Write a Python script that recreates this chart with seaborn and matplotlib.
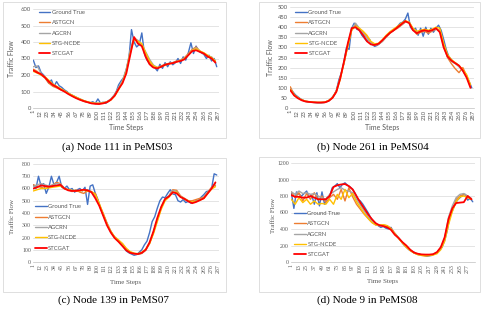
import numpy as np
import pandas as pd
import matplotlib
matplotlib.use("Agg")
import matplotlib.pyplot as plt
import seaborn as sns
from matplotlib.patches import Rectangle

# time steps: ground truth read every 4 steps, model predictions every 6 steps
gt_steps = np.arange(1, 289, 4)
model_steps = np.arange(1, 289, 6)
models = ["Ground True", "ASTGCN", "AGCRN", "STG-NCDE", "STCGAT"]

# (a) Node 111 in PeMS03
a_gt = [290, 245, 255, 215, 200, 175, 150, 170, 130, 160, 135, 125,
        110, 100, 85, 78, 70, 62, 55, 48, 40, 35, 32, 38,
        28, 55, 30, 35, 28, 40, 52, 70, 95, 140, 165, 185,
        235, 300, 475, 400, 370, 385, 455, 330, 290, 270, 250, 245,
        225, 265, 240, 275, 250, 280, 262, 275, 300, 270, 310, 290,
        335, 395, 330, 375, 345, 335, 325, 300, 320, 285, 300, 250]
a_astgcn = [235, 222, 200, 182, 150, 132, 122, 112, 102, 88, 75, 62,
            52, 40, 35, 30, 28, 30, 32, 38, 52, 80, 120, 160,
            230, 345, 420, 400, 380, 330, 280, 255, 245, 255, 265, 270,
            275, 285, 290, 305, 330, 355, 370, 345, 330, 310, 305, 280]
a_agcrn = [250, 255, 210, 190, 165, 140, 128, 115, 102, 90, 76, 64,
           54, 44, 37, 30, 28, 28, 32, 38, 55, 82, 125, 165,
           235, 350, 425, 410, 385, 340, 295, 260, 245, 252, 262, 270,
           275, 282, 292, 300, 325, 350, 365, 345, 330, 315, 310, 285]
a_stgncde = [222, 212, 200, 188, 168, 145, 132, 118, 105, 90, 78, 66,
             55, 45, 38, 32, 28, 27, 30, 36, 48, 72, 110, 155,
             220, 330, 415, 405, 390, 335, 285, 255, 245, 250, 260, 268,
             272, 280, 288, 298, 322, 348, 360, 345, 335, 320, 305, 285]
a_stcgat = [228, 215, 205, 185, 160, 140, 128, 112, 100, 85, 72, 60,
            50, 42, 35, 28, 25, 24, 28, 35, 50, 75, 115, 150,
            210, 320, 430, 390, 375, 310, 265, 245, 240, 250, 262, 268,
            272, 280, 285, 295, 320, 345, 350, 340, 330, 312, 300, 275]

# (b) Node 261 in PeMS04
b_gt = [95, 80, 65, 55, 45, 38, 33, 31, 30, 28, 27, 26,
        26, 27, 30, 35, 48, 62, 85, 140, 175, 230, 300, 290,
        395, 420, 390, 385, 360, 345, 330, 340, 315, 305, 310, 320,
        330, 345, 360, 375, 380, 390, 405, 420, 425, 440, 470, 400,
        385, 395, 360, 395, 355, 400, 365, 395, 375, 395, 410, 385,
        340, 290, 255, 240, 225, 220, 205, 195, 175, 155, 130, 100]
b_astgcn = [105, 65, 50, 40, 33, 30, 28, 27, 27, 28, 36, 52,
            85, 150, 220, 310, 385, 415, 390, 375, 355, 320, 310, 315,
            330, 350, 370, 385, 395, 410, 425, 425, 390, 365, 375, 380,
            370, 380, 390, 385, 310, 250, 220, 195, 175, 200, 160, 110]
b_agcrn = [95, 64, 50, 39, 33, 30, 28, 27, 27, 28, 36, 50,
           82, 150, 225, 315, 390, 420, 395, 370, 345, 322, 312, 315,
           332, 352, 372, 388, 400, 412, 428, 425, 392, 370, 382, 385,
           378, 382, 392, 380, 305, 255, 232, 220, 205, 185, 155, 105]
b_stgncde = [92, 66, 50, 40, 34, 31, 29, 28, 28, 29, 37, 52,
             80, 140, 225, 305, 385, 405, 395, 380, 360, 330, 318, 320,
             338, 360, 378, 392, 405, 420, 432, 425, 395, 380, 385, 390,
             385, 390, 400, 395, 320, 265, 240, 225, 210, 190, 165, 115]
b_stcgat = [88, 62, 48, 38, 32, 30, 28, 27, 27, 28, 35, 50,
            80, 145, 230, 320, 395, 400, 385, 360, 330, 315, 312, 318,
            335, 355, 372, 385, 400, 415, 430, 420, 385, 370, 380, 385,
            380, 385, 395, 375, 300, 255, 235, 222, 210, 185, 150, 100]

# (c) Node 139 in PeMS07
c_gt = [630, 600, 700, 620, 640, 560, 610, 700, 630, 650, 700, 610,
        600, 620, 590, 600, 570, 590, 600, 580, 610, 470, 620, 630,
        560, 510, 440, 390, 340, 290, 250, 215, 195, 170, 150, 120,
        90, 75, 65, 55, 60, 80, 100, 140, 170, 240, 330, 370,
        440, 500, 530, 525, 560, 590, 555, 550, 500, 490, 510, 485,
        495, 480, 490, 500, 505, 530, 550, 575, 580, 600, 720, 710]
c_astgcn = [630, 620, 610, 600, 610, 630, 650, 640, 600, 590, 575, 590,
            570, 560, 580, 570, 560, 470, 400, 320, 250, 200, 175, 150,
            110, 80, 70, 62, 70, 95, 150, 240, 340, 440, 510, 540,
            590, 585, 540, 520, 500, 500, 510, 520, 530, 570, 610, 625]
c_agcrn = [615, 630, 640, 630, 620, 630, 640, 635, 605, 590, 580, 585,
           580, 590, 590, 575, 540, 470, 390, 310, 245, 200, 170, 140,
           100, 78, 68, 63, 72, 98, 155, 245, 350, 445, 515, 540,
           585, 575, 535, 515, 500, 490, 495, 510, 525, 565, 605, 640]
c_stgncde = [580, 590, 600, 600, 605, 610, 615, 620, 600, 590, 585, 580,
             580, 585, 580, 575, 550, 480, 395, 310, 250, 205, 180, 150,
             110, 85, 72, 68, 80, 105, 150, 230, 330, 430, 500, 530,
             570, 570, 530, 515, 500, 490, 495, 505, 520, 560, 595, 615]
c_stcgat = [600, 610, 625, 620, 615, 620, 625, 630, 600, 585, 580, 580,
            585, 590, 585, 570, 520, 460, 380, 300, 240, 195, 165, 130,
            95, 75, 68, 65, 75, 100, 160, 250, 360, 450, 515, 535,
            570, 560, 530, 515, 495, 480, 490, 505, 520, 560, 600, 650]

# (d) Node 9 in PeMS08
d_gt = [840, 650, 850, 820, 800, 830, 860, 780, 810, 700, 840, 680,
        850, 700, 780, 800, 900, 920, 950, 900, 940, 960, 930, 910,
        880, 830, 760, 740, 700, 650, 600, 540, 500, 470, 440, 420,
        430, 410, 400, 420, 360, 330, 290, 250, 210, 180, 150, 130,
        120, 100, 95, 85, 80, 70, 75, 80, 100, 110, 140, 180,
        260, 380, 550, 620, 700, 750, 780, 810, 820, 750, 770, 730]
d_astgcn = [850, 780, 840, 740, 830, 760, 840, 750, 800, 720, 780, 820,
            760, 880, 740, 900, 790, 700, 640, 580, 530, 480, 450, 440,
            450, 440, 410, 350, 290, 230, 180, 140, 110, 90, 80, 75,
            80, 90, 110, 170, 280, 500, 640, 760, 800, 820, 800, 760]
d_agcrn = [850, 820, 860, 830, 840, 820, 830, 800, 780, 760, 820, 850,
           880, 900, 870, 860, 840, 760, 690, 620, 550, 490, 455, 440,
           440, 430, 400, 340, 290, 235, 190, 145, 110, 92, 82, 78,
           82, 92, 115, 175, 290, 540, 680, 780, 820, 830, 800, 770]
d_stgncde = [760, 700, 780, 720, 760, 700, 740, 700, 710, 700, 760, 700,
             820, 760, 880, 780, 830, 730, 660, 590, 530, 480, 450, 450,
             450, 440, 400, 340, 285, 230, 180, 140, 110, 90, 80, 75,
             78, 85, 100, 150, 250, 450, 610, 730, 790, 800, 780, 760]
d_stcgat = [810, 790, 790, 780, 780, 800, 780, 760, 760, 760, 800, 910,
            930, 940, 945, 920, 880, 800, 720, 650, 580, 520, 470, 445,
            435, 420, 390, 330, 290, 240, 200, 150, 115, 100, 92, 90,
            90, 95, 120, 180, 300, 520, 650, 715, 720, 725, 800, 760]

colors = {"Ground True": "#4472C4", "ASTGCN": "#ED7D31", "AGCRN": "#A5A5A5",
          "STG-NCDE": "#FFC000", "STCGAT": "#FF0000"}
widths = {"Ground True": 1.0, "ASTGCN": 1.0, "AGCRN": 1.0,
          "STG-NCDE": 1.0, "STCGAT": 1.3}

W, H = 484, 309


def px_rect(l, t, r, b):
    return [l / W, 1 - b / H, (r - l) / W, (b - t) / H]


panels = [
    dict(series=[a_gt, a_astgcn, a_agcrn, a_stgncde, a_stcgat], ymax=600, ystep=100,
         xstep=11, ax=(33, 9, 219, 108), box=(3, 2, 226, 138), leg=(0.03, 0.99),
         ylab=(-0.097, 0.5), xlab=-0.16, font="Lato", cap=(117, 147),
         caption="(a) Node 111 in PeMS03"),
    dict(series=[b_gt, b_astgcn, b_agcrn, b_stgncde, b_stcgat], ymax=500, ystep=50,
         xstep=11, ax=(290, 7, 474, 108), box=(259, 2, 480, 138), leg=(0.027, 0.97),
         ylab=(-0.087, 0.5), xlab=-0.16, font="Lato", cap=(373, 147),
         caption="(b) Node 261 in PeMS04"),
    dict(series=[c_gt, c_astgcn, c_agcrn, c_stgncde, c_stcgat], ymax=800, ystep=100,
         xstep=11, ax=(33, 164, 219, 262), box=(3, 158, 226, 292), leg=(0.01, 0.59),
         ylab=(-0.097, 0.46), xlab=-0.18, font="Liberation Serif", cap=(114, 300),
         caption="(c) Node 139 in PeMS07"),
    dict(series=[d_gt, d_astgcn, d_agcrn, d_stgncde, d_stcgat], ymax=1200, ystep=200,
         xstep=12, ax=(291, 163, 475, 262), box=(259, 157, 480, 292), leg=(0.016, 0.515),
         ylab=(-0.082, 0.47), xlab=-0.17, font="Liberation Serif", cap=(367, 300),
         caption="(d) Node 9 in PeMS08"),
]

sns.set_style("white")
plt.rcParams['font.family'] = ['Lato', 'DejaVu Sans']

fig = plt.figure(figsize=(W / 100, H / 100), dpi=100)

for p in panels:
    l, t, r, b = p["box"]
    fig.patches.append(Rectangle((l / W, 1 - b / H), (r - l) / W, (b - t) / H,
                                 transform=fig.transFigure, fill=False,
                                 edgecolor="#d9d9d9", linewidth=0.6))
    ax = fig.add_axes(px_rect(*p["ax"]))
    for name, vals in zip(models, p["series"]):
        steps = gt_steps if name == "Ground True" else model_steps
        df = pd.DataFrame({"Time Steps": steps, "Traffic Flow": vals})
        sns.lineplot(data=df, x="Time Steps", y="Traffic Flow", ax=ax,
                     color=colors[name], linewidth=widths[name], label=name)

    ax.set_xlim(0.5, 288.5)
    ax.set_ylim(0, p["ymax"])
    ax.set_yticks(np.arange(0, p["ymax"] + 1, p["ystep"]))
    ax.set_xticks(np.arange(1, 289, p["xstep"]))
    ax.grid(axis="y", color="#d9d9d9", linewidth=0.5)
    ax.set_axisbelow(True)
    for s in ["top", "left", "right"]:
        ax.spines[s].set_visible(False)
    ax.spines["bottom"].set_color("#bfbfbf")
    ax.spines["bottom"].set_linewidth(0.5)
    ax.tick_params(length=0, pad=1.5, colors="#595959", labelsize=4.2)
    ax.tick_params(axis="x", rotation=90)
    for lab in ax.get_xticklabels() + ax.get_yticklabels():
        lab.set_fontfamily(p["font"])
    ax.set_xlabel("Time Steps", fontsize=5, color="#595959", family=p["font"])
    ax.set_ylabel("Traffic Flow", fontsize=5, color="#595959", family=p["font"])
    ax.xaxis.set_label_coords(0.5, p["xlab"])
    ax.yaxis.set_label_coords(*p["ylab"])
    leg = ax.legend(loc="upper left", bbox_to_anchor=p["leg"], frameon=False,
                    fontsize=4.2, handlelength=2.0, handletextpad=0.3,
                    labelspacing=0.9, borderpad=0, borderaxespad=0)
    for txt in leg.get_texts():
        txt.set_color("#595959")

    fig.text(p["cap"][0] / W, 1 - p["cap"][1] / H, p["caption"], ha="center",
             va="center", fontsize=8, family="Liberation Serif", color="black")

fig.savefig("out.png", dpi=100)
